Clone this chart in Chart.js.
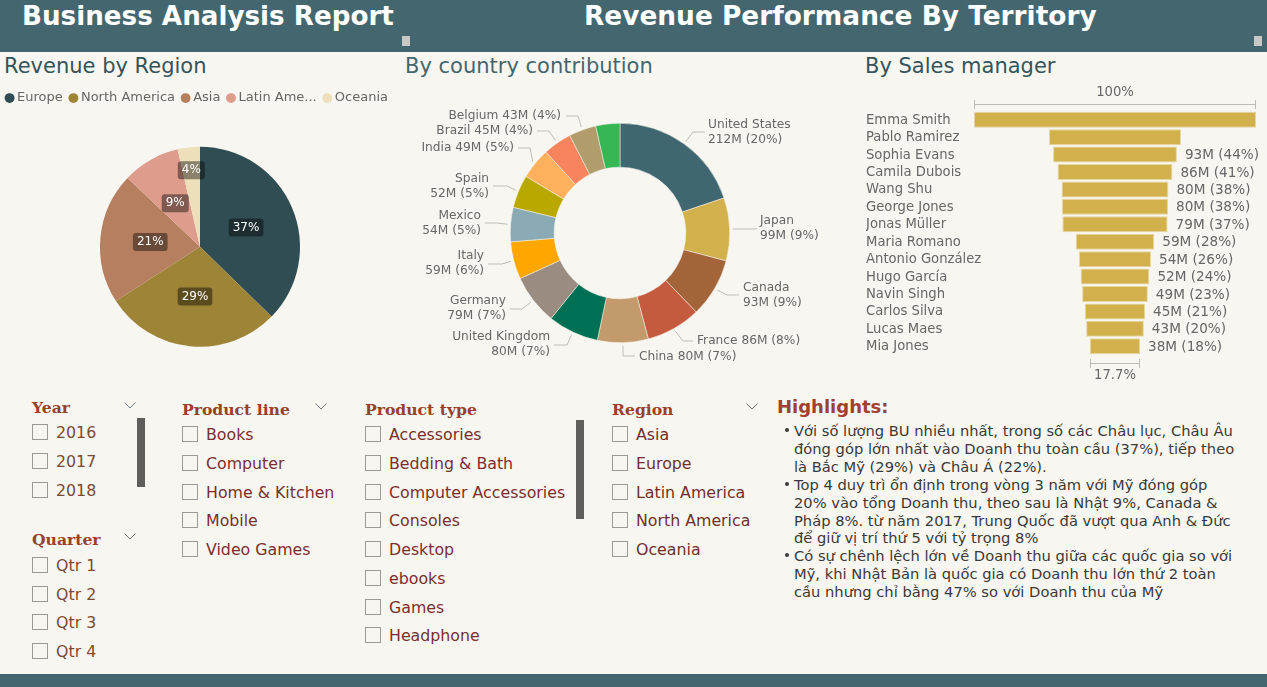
<!DOCTYPE html>
<html>
<head>
<meta charset="utf-8">
<title>Business Analysis Report</title>
<script src="https://cdn.jsdelivr.net/npm/chart.js@4"></script>
<style>
  html, body { margin: 0; padding: 0; background: #f8f6f1; }
  #page { position: relative; width: 1267px; height: 687px; overflow: hidden; background: #f8f6f1; font-family: "DejaVu Sans", sans-serif; }
  .band { position: absolute; left: 0; width: 1267px; background: #44666f; }
  .head { position: absolute; top: 0; color: #fff; font-weight: bold; font-size: 26.4px; line-height: 32px; white-space: nowrap; }
  .grip { position: absolute; top: 36px; width: 8px; height: 10px; background: #c8c8c8; }
  .section { position: absolute; top: 52px; font-size: 21px; line-height: 28px; white-space: nowrap; }
  canvas { position: absolute; }
  .slicer-title { position: absolute; font-weight: bold; font-size: 15.6px; line-height: 20px; color: #97402a; white-space: nowrap; font-family: "DejaVu Serif", serif; }
  .box { position: absolute; width: 14px; height: 14px; border: 1px solid #9a9a96; }
  .item { position: absolute; font-size: 15.8px; line-height: 20px; white-space: nowrap; }
  .scroll { position: absolute; width: 8px; background: #605e5c; }
  .chev { position: absolute; width: 12px; height: 7px; }
  .note { position: absolute; left: 794px; font-size: 14.7px; line-height: 18px; color: #3a3a3a; white-space: nowrap; }
  .dot { position: absolute; left: 785px; width: 4px; height: 4px; border-radius: 2px; background: #3a3a3a; }
  #hl { position: absolute; left: 777px; top: 395px; font-size: 18px; line-height: 24px; font-weight: bold; color: #a04030; white-space: nowrap; }
</style>
</head>
<body>
<div id="page">
  <div class="band" style="top:0;height:52px"></div>
  <div class="band" style="top:674px;height:13px"></div>
  <div class="head" style="left:22px;font-size:26.2px">Business Analysis Report</div>
  <div class="head" style="left:584px">Revenue Performance By Territory</div>
  <div class="grip" style="left:402px"></div>
  <div class="grip" style="left:1254px"></div>
  <div class="section" style="left:4px;color:#35535b">Revenue by Region</div>
  <div class="section" style="left:405px;color:#44666f">By country contribution</div>
  <div class="section" style="left:865px;color:#35535b">By Sales manager</div>
  <canvas id="region-chart" width="402" height="297" style="left:-1px;top:82px"></canvas>
  <canvas id="country-chart" width="430" height="290" style="left:405px;top:88px"></canvas>
  <canvas id="manager-chart" width="401" height="296" style="left:866px;top:84px"></canvas>
  <div id="slicers"></div>
  <div id="hl">Highlights:</div>
  <div id="notes"></div>
</div>
<script>
var regions = ["Europe", "North America", "Asia", "Latin America", "Oceania"];
var regionLegend = ["Europe", "North America", "Asia", "Latin Ame...", "Oceania"];
var regionShare = [37.3, 28.6, 21.2, 9.3, 3.6];
var regionColors = ["#314d54", "#9e8437", "#b57f60", "#dd9c8c", "#ecdfb9"];

var countries = ["United States", "Japan", "Canada", "France", "China", "United Kingdom", "Germany", "Italy", "Mexico", "Spain", "India", "Brazil", "Belgium", "Australia"];
var countryRevenue = [212, 99, 93, 86, 80, 80, 79, 59, 54, 52, 49, 45, 43, 38];
var countryColors = ["#40666f", "#d2b04c", "#a3643a", "#c45a3e", "#c39a6b", "#007054", "#9a8c80", "#ffa600", "#8aabb5", "#b8a800", "#ffb05c", "#f7845c", "#b09d6b", "#35b754"];

var managers = ["Emma Smith", "Pablo Ramirez", "Sophia Evans", "Camila Dubois", "Wang Shu", "George Jones", "Jonas Müller", "Maria Romano", "Antonio González", "Hugo García", "Navin Singh", "Carlos Silva", "Lucas Maes", "Mia Jones"];
var managerRevenue = [212, 99.2, 93.1, 86.4, 80.3, 79.8, 79.1, 59, 54.2, 51.7, 49.4, 45.2, 43.4, 37.6];

var years = ["2016", "2017", "2018"];
var quarters = ["Qtr 1", "Qtr 2", "Qtr 3", "Qtr 4"];
var productLines = ["Books", "Computer", "Home & Kitchen", "Mobile", "Video Games"];
var productTypes = ["Accessories", "Bedding & Bath", "Computer Accessories", "Consoles", "Desktop", "ebooks", "Games", "Headphone"];
var regionItems = ["Asia", "Europe", "Latin America", "North America", "Oceania"];

var notes = [
  ["Với số lượng BU nhiều nhất, trong số các Châu lục, Châu Âu", "đóng góp lớn nhất vào Doanh thu toàn cầu (37%), tiếp theo", "là Bắc Mỹ (29%)  và Châu Á (22%)."],
  ["Top 4 duy trì ổn định trong vòng 3 năm với Mỹ đóng góp", "20% vào tổng Doanh thu, theo sau là Nhật 9%, Canada &", "Pháp 8%. từ năm 2017, Trung Quốc đã vượt qua Anh & Đức", "để giữ vị trí thứ 5 với tỷ trọng 8%"],
  ["Có sự chênh lệch lớn về Doanh thu giữa các quốc gia so với", "Mỹ, khi Nhật Bản là quốc gia có Doanh thu lớn thứ 2 toàn", "cầu nhưng chỉ bằng 47% so với Doanh thu của Mỹ"]
];

var FONT = '"DejaVu Sans", sans-serif';
var GREY = "#666666";

// callout layout for the doughnut, px offsets from its centre
var callouts = [
  { elbow: [73, -101], end: [85, -101], text: [88, -108], align: "left" },
  { elbow: [113, -4], end: [137, -4], text: [140, -12], align: "left" },
  { elbow: [107, 62], end: [119, 62], text: [123, 55], align: "left" },
  { elbow: [63, 108], end: [73, 108], text: [77, 108], align: "left", oneLine: true },
  { elbow: [3, 123], end: [15, 123], text: [19, 124], align: "left", oneLine: true },
  { elbow: [-53, 112], end: [-66, 112], text: [-70, 104], align: "right" },
  { elbow: [-98, 76], end: [-110, 76], text: [-114, 68], align: "right" },
  { elbow: [-118, 31], end: [-132, 31], text: [-136, 23], align: "right" },
  { elbow: [-123, -10], end: [-135, -10], text: [-139, -17], align: "right" },
  { elbow: [-113, -47], end: [-127, -47], text: [-131, -54], align: "right" },
  { elbow: [-90, -85], end: [-102, -85], text: [-106, -85], align: "right", oneLine: true },
  { elbow: [-71, -102], end: [-83, -102], text: [-87, -102], align: "right", oneLine: true },
  { elbow: [-42, -117], end: [-54, -117], text: [-59, -117], align: "right", oneLine: true }
];

function sum(list) {
  return list.reduce(function (a, b) { return a + b; }, 0);
}

function roundRect(ctx, x, y, w, h, r) {
  ctx.beginPath();
  ctx.moveTo(x + r, y);
  ctx.arcTo(x + w, y, x + w, y + h, r);
  ctx.arcTo(x + w, y + h, x, y + h, r);
  ctx.arcTo(x, y + h, x, y, r);
  ctx.arcTo(x, y, x + w, y, r);
  ctx.closePath();
}

// percent badges inside the pie
var pieBadges = {
  id: "pieBadges",
  afterDatasetsDraw: function (chart) {
    var ctx = chart.ctx;
    var total = sum(regionShare);
    chart.getDatasetMeta(0).data.forEach(function (arc, i) {
      var mid = (arc.startAngle + arc.endAngle) / 2;
      var share = regionShare[i] / total;
      var r = arc.outerRadius * (share < 0.05 ? 0.77 : 0.5);
      var x = arc.x + Math.cos(mid) * r;
      var y = arc.y + Math.sin(mid) * r;
      var text = Math.round(share * 100) + "%";
      ctx.save();
      ctx.font = "12px " + FONT;
      var w = ctx.measureText(text).width + 8;
      ctx.fillStyle = "rgba(0,0,0,0.42)";
      roundRect(ctx, x - w / 2, y - 9, w, 18, 3);
      ctx.fill();
      ctx.fillStyle = "#ffffff";
      ctx.textAlign = "center";
      ctx.textBaseline = "middle";
      ctx.fillText(text, x, y);
      ctx.restore();
    });
  }
};

// leader lines and labels around the doughnut
var doughnutCallouts = {
  id: "doughnutCallouts",
  afterDatasetsDraw: function (chart) {
    var ctx = chart.ctx;
    var total = sum(countryRevenue);
    chart.getDatasetMeta(0).data.forEach(function (arc, i) {
      var c = callouts[i];
      if (!c) return;
      var mid = (arc.startAngle + arc.endAngle) / 2;
      var value = countryRevenue[i] + "M (" + Math.round(countryRevenue[i] / total * 100) + "%)";
      ctx.save();
      ctx.strokeStyle = "#bdbdb8";
      ctx.lineWidth = 1;
      ctx.beginPath();
      ctx.moveTo(arc.x + Math.cos(mid) * (arc.outerRadius + 3), arc.y + Math.sin(mid) * (arc.outerRadius + 3));
      ctx.lineTo(arc.x + c.elbow[0], arc.y + c.elbow[1]);
      ctx.lineTo(arc.x + c.end[0], arc.y + c.end[1]);
      ctx.stroke();
      ctx.font = "12.2px " + FONT;
      ctx.fillStyle = GREY;
      ctx.textAlign = c.align;
      ctx.textBaseline = "middle";
      if (c.oneLine) {
        ctx.fillText(countries[i] + " " + value, arc.x + c.text[0], arc.y + c.text[1]);
      } else {
        ctx.fillText(countries[i], arc.x + c.text[0], arc.y + c.text[1]);
        ctx.fillText(value, arc.x + c.text[0], arc.y + c.text[1] + 15);
      }
      ctx.restore();
    });
  }
};

function bracket(ctx, x1, x2, y, text, textY) {
  ctx.strokeStyle = "#bdbdb8";
  ctx.lineWidth = 1;
  ctx.beginPath();
  ctx.moveTo(x1, y + 0.5);
  ctx.lineTo(x2, y + 0.5);
  ctx.moveTo(x1 + 0.5, y - 4);
  ctx.lineTo(x1 + 0.5, y + 5);
  ctx.moveTo(x2 - 0.5, y - 4);
  ctx.lineTo(x2 - 0.5, y + 5);
  ctx.stroke();
  ctx.fillStyle = GREY;
  ctx.textAlign = "center";
  ctx.textBaseline = "middle";
  ctx.fillText(text, (x1 + x2) / 2, textY);
}

// names, value labels and the two width brackets of the funnel
var funnelLabels = {
  id: "funnelLabels",
  afterDatasetsDraw: function (chart) {
    var ctx = chart.ctx;
    var xScale = chart.scales.x;
    var yScale = chart.scales.y;
    var first = managerRevenue[0];
    var last = managerRevenue[managerRevenue.length - 1];
    ctx.save();
    ctx.textBaseline = "middle";
    ctx.fillStyle = GREY;
    managers.forEach(function (name, i) {
      var y = yScale.getPixelForTick(i);
      ctx.textAlign = "left";
      ctx.font = "13.2px " + FONT;
      ctx.fillText(name, 0, y + 0.5);
      if (i < 2) return;
      var text = Math.round(managerRevenue[i]) + "M (" + Math.round(managerRevenue[i] / first * 100) + "%)";
      ctx.font = "13.6px " + FONT;
      ctx.fillText(text, xScale.getPixelForValue(managerRevenue[i] / 2) + 8, y + 1);
    });
    ctx.font = "13.2px " + FONT;
    bracket(ctx, xScale.getPixelForValue(-first / 2), xScale.getPixelForValue(first / 2), chart.chartArea.top - 7, "100%", chart.chartArea.top - 18);
    bracket(ctx, xScale.getPixelForValue(-last / 2), xScale.getPixelForValue(last / 2), chart.chartArea.bottom + 8, (last / first * 100).toFixed(1) + "%", chart.chartArea.bottom + 21);
    ctx.restore();
  }
};

new Chart(document.getElementById("region-chart"), {
  type: "pie",
  plugins: [pieBadges],
  data: {
    labels: regions,
    datasets: [{ data: regionShare, backgroundColor: regionColors, borderWidth: 0, radius: 100 }]
  },
  options: {
    responsive: false,
    animation: false,
    plugins: {
      tooltip: { enabled: false },
      legend: {
        position: "top",
        align: "start",
        labels: {
          usePointStyle: true,
          boxWidth: 2,
          boxHeight: 7,
          padding: 9.6,
          color: GREY,
          font: { family: FONT, size: 13 },
          generateLabels: function (chart) {
            return regionLegend.map(function (name, i) {
              return {
                text: name,
                fillStyle: regionColors[i],
                strokeStyle: regionColors[i],
                fontColor: GREY,
                lineWidth: 0,
                pointStyle: "circle",
                index: i
              };
            });
          }
        }
      }
    }
  }
});

new Chart(document.getElementById("country-chart"), {
  type: "doughnut",
  plugins: [doughnutCallouts],
  data: {
    labels: countries,
    datasets: [{ data: countryRevenue, backgroundColor: countryColors, borderWidth: 0.5, borderColor: "#f8f6f1" }]
  },
  options: {
    responsive: false,
    animation: false,
    cutout: "60%",
    layout: { padding: { top: 35, bottom: 35 } },
    plugins: { legend: { display: false }, tooltip: { enabled: false } }
  }
});

new Chart(document.getElementById("manager-chart"), {
  type: "bar",
  plugins: [funnelLabels],
  data: {
    labels: managers,
    datasets: [{
      data: managerRevenue.map(function (v) { return [-v / 2, v / 2]; }),
      backgroundColor: "#d2b04c",
      borderColor: "#e6d69f",
      borderWidth: 1,
      borderSkipped: false,
      barPercentage: 0.92,
      categoryPercentage: 1
    }]
  },
  options: {
    indexAxis: "y",
    responsive: false,
    animation: false,
    layout: { padding: { top: 27, bottom: 25, right: 11 } },
    scales: {
      x: { display: false, min: -managerRevenue[0] / 2, max: managerRevenue[0] / 2 },
      y: {
        afterFit: function (scale) { scale.width = 108; },
        grid: { display: false },
        border: { display: false },
        ticks: { display: false, autoSkip: false }
      }
    },
    plugins: { legend: { display: false }, tooltip: { enabled: false } }
  }
});

// slicer panels around the charts
var holder = document.getElementById("slicers");

function addEl(cls, left, top, text, color) {
  var el = document.createElement("div");
  el.className = cls;
  el.style.left = left + "px";
  el.style.top = top + "px";
  if (text) el.textContent = text;
  if (color) el.style.color = color;
  holder.appendChild(el);
  return el;
}

function addChevron(left, top) {
  var el = document.createElementNS("http://www.w3.org/2000/svg", "svg");
  el.setAttribute("class", "chev");
  el.setAttribute("viewBox", "0 0 12 7");
  el.style.left = left + "px";
  el.style.top = top + "px";
  el.innerHTML = '<polyline points="0.5,0.5 6,6 11.5,0.5" fill="none" stroke="#6f7a80" stroke-width="1"/>';
  holder.appendChild(el);
}

function addSlicer(title, items, left, titleY, firstY, pitch, color) {
  addEl("slicer-title", left, titleY - 9, title);
  items.forEach(function (name, i) {
    var y = Math.round(firstY + i * pitch);
    addEl("box", left, y - 8);
    addEl("item", left + 24, y - 9, name, color);
  });
}

addSlicer("Year", years, 32, 407, 432, 28.9, "#7b4a32");
addSlicer("Quarter", quarters, 32, 539, 565, 28.7, "#7b4a32");
addSlicer("Product line", productLines, 182, 409, 434, 28.75, "#7a2e2e");
addSlicer("Product type", productTypes, 365, 409, 434, 28.75, "#7a2e2e");
addSlicer("Region", regionItems, 612, 409, 434, 28.75, "#6f2f2a");
addChevron(124, 402);
addChevron(124, 533);
addChevron(315, 403);
addChevron(746, 403);
addEl("scroll", 137, 418).style.height = "69px";
addEl("scroll", 576, 420).style.height = "99px";

var notesEl = document.getElementById("notes");
var lineIndex = 0;
notes.forEach(function (lines) {
  var top = 422 + lineIndex * 17.9;
  var dot = document.createElement("div");
  dot.className = "dot";
  dot.style.top = Math.round(top + 6) + "px";
  notesEl.appendChild(dot);
  lines.forEach(function (line) {
    var el = document.createElement("div");
    el.className = "note";
    el.style.top = Math.round(422 + lineIndex * 17.9) + "px";
    el.textContent = line;
    notesEl.appendChild(el);
    lineIndex++;
  });
});
</script>
</body>
</html>
